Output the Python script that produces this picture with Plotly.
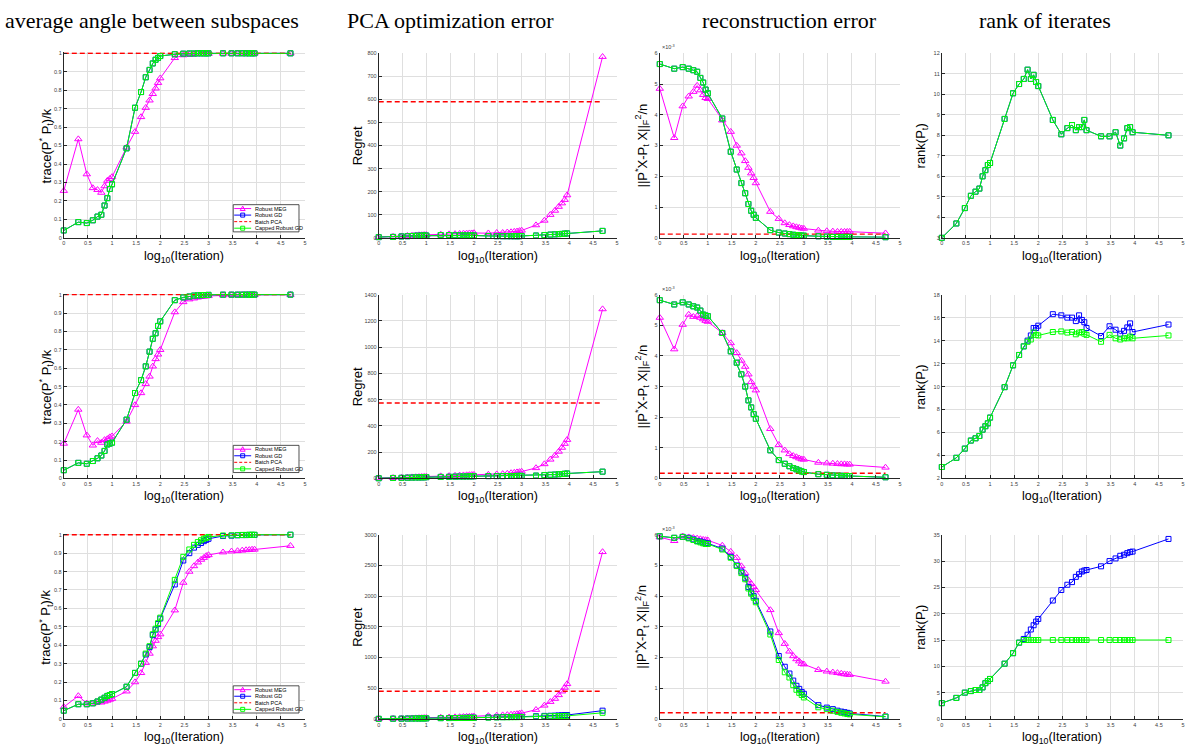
import numpy as np
import plotly.graph_objects as go

# ---------------- data ----------------
ITERATIONS = [1, 2, 3, 4, 5, 6, 7, 8, 9,
              10, 20, 30, 40, 50, 60, 70, 80, 90,
              100, 200, 300, 400, 500, 600, 700, 800, 900,
              1000, 2000, 3000, 4000, 5000, 6000, 7000, 8000, 9000,
              50000]

COLUMN_TITLES = ["average angle between subspaces", "PCA optimization error",
                 "reconstruction error", "rank of iterates"]
SERIES_NAMES = ["Robust MEG", "Robust GD", "Batch PCA", "Capped Robust GD"]
X_TICKS = [0, 0.5, 1, 1.5, 2, 2.5, 3, 3.5, 4, 4.5, 5]

# ---- row 1 ----
ANGLE_MEG_R1 = [0.255, 0.535, 0.345, 0.27, 0.26, 0.245, 0.28, 0.31, 0.32, 0.33,
                0.49, 0.575, 0.655, 0.705, 0.745, 0.78, 0.81, 0.84, 0.865,
                0.975, 0.99, 0.993, 0.995, 0.996, 0.997, 0.997, 0.998, 0.998,
                0.999, 0.999, 0.999, 0.999, 1.0, 1.0, 1.0, 1.0, 1.0]
ANGLE_GD_R1 = [0.04, 0.085, 0.08, 0.095, 0.115, 0.125, 0.175, 0.215, 0.265, 0.29,
               0.485, 0.705, 0.79, 0.87, 0.91, 0.945, 0.965, 0.975, 0.985,
               0.995, 0.998, 0.999, 0.999, 1.0, 1.0, 1.0, 1.0, 1.0,
               1.0, 1.0, 1.0, 1.0, 1.0, 1.0, 1.0, 1.0, 1.0]
ANGLE_CAP_R1 = [0.04, 0.085, 0.08, 0.095, 0.115, 0.125, 0.175, 0.215, 0.265, 0.29,
                0.485, 0.705, 0.79, 0.87, 0.91, 0.945, 0.965, 0.975, 0.985,
                0.995, 0.998, 0.999, 0.999, 1.0, 1.0, 1.0, 1.0, 1.0,
                1.0, 1.0, 1.0, 1.0, 1.0, 1.0, 1.0, 1.0, 1.0]
ANGLE_BATCH_R1 = 1.0

REGRET_MEG_R1 = [3, 5, 7, 9, 10, 11, 12, 12, 13, 13,
                 15, 16, 17, 18, 19, 19, 20, 20, 21,
                 20, 22, 22, 24, 25, 27, 28, 30, 32,
                 55, 75, 100, 118, 135, 150, 165, 185, 785]
REGRET_GD_R1 = [3, 4, 6, 7, 8, 9, 9, 10, 10, 10,
                12, 12, 11, 11, 11, 10, 10, 10, 10,
                8, 7, 7, 7, 7, 7, 7, 7, 8,
                10, 12, 14, 15, 16, 17, 18, 19, 30]
REGRET_CAP_R1 = [3, 4, 6, 7, 8, 9, 9, 10, 10, 10,
                 12, 12, 11, 11, 11, 10, 10, 10, 10,
                 8, 7, 7, 7, 7, 7, 7, 7, 8,
                 10, 12, 14, 15, 16, 17, 18, 19, 30]
REGRET_BATCH_R1 = 590

# reconstruction error, in units of 1e-3
RECON_MEG_R1 = [4.85, 3.25, 4.28, 4.6, 4.75, 4.95, 4.8, 4.65, 4.55, 4.52,
                3.82, 3.45, 3.0, 2.75, 2.5, 2.28, 2.1, 1.95, 1.78,
                0.85, 0.62, 0.48, 0.42, 0.38, 0.35, 0.33, 0.31, 0.3,
                0.24, 0.22, 0.21, 0.2, 0.2, 0.2, 0.2, 0.2, 0.15]
RECON_GD_R1 = [5.65, 5.5, 5.55, 5.5, 5.45, 5.4, 5.2, 5.05, 4.82, 4.7,
               3.88, 2.8, 2.22, 1.78, 1.45, 1.1, 0.88, 0.75, 0.65,
               0.25, 0.17, 0.14, 0.12, 0.1, 0.09, 0.08, 0.07, 0.07,
               0.05, 0.04, 0.03, 0.03, 0.03, 0.03, 0.03, 0.03, 0.02]
RECON_CAP_R1 = [5.65, 5.5, 5.55, 5.5, 5.45, 5.4, 5.2, 5.05, 4.82, 4.7,
                3.88, 2.8, 2.22, 1.78, 1.45, 1.1, 0.88, 0.75, 0.65,
                0.25, 0.17, 0.14, 0.12, 0.1, 0.09, 0.08, 0.07, 0.07,
                0.05, 0.04, 0.03, 0.03, 0.03, 0.03, 0.03, 0.03, 0.02]
RECON_BATCH_R1 = 0.12

RANK_GD_R1 = [3, 3.7, 4.45, 5.05, 5.25, 5.4, 6.0, 6.3, 6.55, 6.65,
              8.8, 10.05, 10.5, 10.75, 11.2, 10.75, 10.95, 10.6, 10.4,
              8.75, 8.05, 8.35, 8.5, 8.25, 8.4, 8.4, 8.75, 8.25,
              7.95, 7.95, 8.15, 7.5, 7.85, 8.35, 8.4, 8.15, 8.0]
RANK_CAP_R1 = [3, 3.7, 4.45, 5.05, 5.25, 5.4, 6.0, 6.3, 6.55, 6.65,
               8.8, 10.05, 10.5, 10.75, 11.2, 10.75, 10.95, 10.6, 10.4,
               8.75, 8.05, 8.35, 8.5, 8.25, 8.4, 8.4, 8.75, 8.25,
               7.95, 7.95, 8.15, 7.5, 7.85, 8.35, 8.4, 8.15, 8.0]

# ---- row 2 ----
ANGLE_MEG_R2 = [0.19, 0.375, 0.235, 0.18, 0.205, 0.195, 0.21, 0.215, 0.225, 0.23,
                0.31, 0.4, 0.465, 0.515, 0.555, 0.61, 0.65, 0.675, 0.7,
                0.905, 0.96, 0.975, 0.98, 0.985, 0.988, 0.99, 0.992, 0.993,
                0.997, 0.998, 0.998, 0.999, 0.999, 0.999, 0.999, 0.999, 1.0]
ANGLE_GD_R2 = [0.045, 0.085, 0.08, 0.095, 0.11, 0.125, 0.15, 0.185, 0.19, 0.195,
               0.32, 0.465, 0.535, 0.61, 0.69, 0.76, 0.79, 0.83, 0.855,
               0.97, 0.985, 0.99, 0.995, 0.996, 0.997, 0.998, 0.998, 0.999,
               1.0, 1.0, 1.0, 1.0, 1.0, 1.0, 1.0, 1.0, 1.0]
ANGLE_CAP_R2 = [0.045, 0.085, 0.08, 0.095, 0.11, 0.125, 0.15, 0.185, 0.19, 0.195,
                0.32, 0.465, 0.535, 0.61, 0.69, 0.76, 0.79, 0.83, 0.855,
                0.97, 0.985, 0.99, 0.995, 0.996, 0.997, 0.998, 0.998, 0.999,
                1.0, 1.0, 1.0, 1.0, 1.0, 1.0, 1.0, 1.0, 1.0]
ANGLE_BATCH_R2 = 1.0

REGRET_MEG_R2 = [3, 5, 7, 9, 10, 11, 12, 13, 14, 15,
                 18, 20, 22, 24, 25, 26, 27, 28, 29,
                 30, 33, 35, 38, 42, 45, 48, 50, 53,
                 80, 110, 145, 175, 205, 235, 265, 295, 1290]
REGRET_GD_R2 = [2, 4, 5, 6, 7, 8, 8, 9, 9, 10,
                12, 13, 14, 15, 15, 16, 16, 17, 17,
                18, 18, 18, 19, 19, 19, 20, 20, 20,
                22, 26, 28, 30, 32, 34, 36, 38, 52]
REGRET_CAP_R2 = [2, 4, 5, 6, 7, 8, 8, 9, 9, 10,
                 12, 13, 14, 15, 15, 16, 16, 17, 17,
                 18, 18, 18, 19, 19, 19, 20, 20, 20,
                 22, 26, 28, 30, 32, 34, 36, 38, 52]
REGRET_BATCH_R2 = 575

RECON_MEG_R2 = [5.25, 4.22, 5.02, 5.35, 5.28, 5.3, 5.25, 5.2, 5.15, 5.12,
                4.75, 4.42, 4.1, 3.85, 3.65, 3.4, 3.15, 3.0, 2.88,
                1.62, 1.1, 0.92, 0.8, 0.74, 0.7, 0.66, 0.63, 0.62,
                0.52, 0.5, 0.49, 0.48, 0.47, 0.47, 0.46, 0.46, 0.36]
RECON_GD_R2 = [5.82, 5.68, 5.75, 5.68, 5.62, 5.58, 5.48, 5.35, 5.32, 5.3,
               4.75, 4.15, 3.78, 3.4, 3.0, 2.55, 2.32, 2.1, 1.95,
               0.92, 0.6, 0.48, 0.4, 0.34, 0.3, 0.26, 0.23, 0.21,
               0.14, 0.12, 0.1, 0.09, 0.09, 0.08, 0.08, 0.08, 0.04]
RECON_CAP_R2 = [5.82, 5.68, 5.75, 5.68, 5.62, 5.58, 5.48, 5.35, 5.32, 5.3,
                4.75, 4.15, 3.78, 3.4, 3.0, 2.55, 2.32, 2.1, 1.95,
                0.92, 0.6, 0.48, 0.4, 0.34, 0.3, 0.26, 0.23, 0.21,
                0.14, 0.12, 0.1, 0.09, 0.09, 0.08, 0.08, 0.08, 0.04]
RECON_BATCH_R2 = 0.17

RANK_GD_R2 = [3, 3.8, 4.6, 5.3, 5.5, 5.7, 6.25, 6.55, 6.8, 7.3,
              9.95, 11.85, 12.75, 13.5, 14.0, 14.45, 15.1, 15.1, 15.3,
              16.3, 16.2, 16.0, 16.0, 15.7, 16.2, 15.8, 15.6, 15.1,
              14.4, 15.25, 14.95, 14.6, 14.85, 15.15, 15.5, 14.75, 15.4]
RANK_CAP_R2 = [3, 3.8, 4.6, 5.3, 5.5, 5.7, 6.25, 6.55, 6.8, 7.3,
               9.95, 11.85, 12.75, 13.5, 13.9, 14.1, 14.7, 14.5, 14.45,
               14.75, 14.8, 14.7, 14.75, 14.55, 14.7, 14.75, 14.6, 14.5,
               13.9, 14.5, 14.2, 14.1, 14.2, 14.2, 14.35, 14.2, 14.45]

# ---- row 3 ----
ANGLE_MEG_R3 = [0.065, 0.125, 0.085, 0.085, 0.09, 0.09, 0.095, 0.1, 0.105, 0.11,
                0.15, 0.2, 0.25, 0.305, 0.355, 0.395, 0.425, 0.445, 0.46,
                0.59, 0.74, 0.8, 0.83, 0.85, 0.865, 0.875, 0.885, 0.89,
                0.905, 0.91, 0.912, 0.915, 0.917, 0.918, 0.92, 0.92, 0.94]
ANGLE_GD_R3 = [0.045, 0.08, 0.08, 0.085, 0.095, 0.105, 0.115, 0.125, 0.13, 0.135,
               0.175, 0.25, 0.3, 0.35, 0.39, 0.455, 0.485, 0.515, 0.545,
               0.73, 0.86, 0.9, 0.93, 0.945, 0.955, 0.965, 0.972, 0.978,
               0.993, 0.995, 0.997, 0.998, 0.998, 0.999, 0.999, 0.999, 1.0]
ANGLE_CAP_R3 = [0.045, 0.08, 0.08, 0.085, 0.095, 0.105, 0.115, 0.125, 0.13, 0.135,
                0.175, 0.25, 0.3, 0.355, 0.395, 0.46, 0.49, 0.52, 0.55,
                0.755, 0.88, 0.92, 0.945, 0.96, 0.97, 0.978, 0.983, 0.988,
                0.996, 0.997, 0.998, 0.999, 0.999, 1.0, 1.0, 1.0, 1.0]
ANGLE_BATCH_R3 = 1.0

REGRET_MEG_R3 = [3, 6, 8, 10, 12, 13, 15, 16, 18, 20,
                 25, 28, 31, 33, 35, 37, 38, 40, 42,
                 50, 57, 62, 67, 72, 77, 82, 88, 95,
                 150, 220, 280, 330, 390, 450, 510, 570, 2720]
REGRET_GD_R3 = [2, 4, 5, 6, 7, 8, 8, 9, 10, 10,
                13, 15, 16, 17, 18, 19, 19, 20, 20,
                25, 28, 30, 31, 32, 33, 34, 34, 35,
                45, 50, 52, 55, 58, 60, 62, 64, 135]
REGRET_CAP_R3 = [2, 4, 5, 6, 7, 8, 8, 9, 10, 10,
                 13, 14, 15, 16, 17, 18, 18, 19, 19,
                 22, 25, 27, 28, 29, 30, 30, 31, 32,
                 38, 42, 44, 46, 47, 48, 49, 50, 100]
REGRET_BATCH_R3 = 450

RECON_MEG_R3 = [5.92, 5.8, 5.95, 5.92, 5.9, 5.88, 5.86, 5.84, 5.83, 5.82,
                5.65, 5.45, 5.25, 4.98, 4.75, 4.52, 4.4, 4.3, 4.2,
                3.55, 2.8, 2.45, 2.2, 2.05, 1.95, 1.88, 1.8, 1.78,
                1.6, 1.55, 1.52, 1.5, 1.48, 1.46, 1.45, 1.44, 1.22]
RECON_GD_R3 = [5.95, 5.9, 5.93, 5.9, 5.85, 5.8, 5.78, 5.75, 5.72, 5.72,
               5.55, 5.28, 5.0, 4.8, 4.6, 4.3, 4.12, 4.0, 3.85,
               2.85, 2.05, 1.7, 1.48, 1.25, 1.08, 0.98, 0.88, 0.82,
               0.45, 0.37, 0.32, 0.27, 0.24, 0.22, 0.2, 0.18, 0.08]
RECON_CAP_R3 = [5.95, 5.9, 5.93, 5.88, 5.83, 5.78, 5.75, 5.72, 5.7, 5.7,
                5.52, 5.25, 4.98, 4.75, 4.55, 4.25, 4.08, 3.95, 3.8,
                2.75, 1.92, 1.52, 1.35, 1.1, 0.95, 0.85, 0.78, 0.7,
                0.38, 0.32, 0.27, 0.23, 0.2, 0.18, 0.16, 0.15, 0.07]
RECON_BATCH_R3 = 0.2

RANK_GD_R3 = [3, 4.0, 5.0, 5.3, 5.5, 5.5, 6.0, 6.8, 7.2, 7.6,
              10.5, 12.5, 14.5, 15.2, 16.0, 17.0, 17.8, 18.5, 19.0,
              22.5, 24.5, 25.5, 26.0, 27.0, 27.5, 28.0, 28.2, 28.3,
              29.0, 30.0, 30.5, 31.0, 31.2, 31.5, 31.7, 31.8, 34.2]
RANK_CAP_R3 = [3, 4.0, 5.0, 5.3, 5.5, 5.5, 6.0, 6.8, 7.2, 7.6,
               10.5, 12.5, 14.5, 15.0, 15.0, 15.0, 15.0, 15.0, 15.0,
               15.0, 15.0, 15.0, 15.0, 15.0, 15.0, 15.0, 15.0, 15.0,
               15.0, 15.0, 15.0, 15.0, 15.0, 15.0, 15.0, 15.0, 15.0]

# y axis settings per panel: (range, dtick)
ANGLE_YAXIS = ([0, 1.006], 0.1)
REGRET_YAXES = [([0, 800], 100), ([0, 1400], 200), ([0, 3000], 500)]
RECON_TICKS = [0, 1, 2, 3, 4, 5, 6]          # x 1e-3
RANK_YAXES = [([3, 12], 1), ([2, 18], 2), ([0, 35], 5)]

# ---------------- drawing ----------------
X = np.log10(np.array(ITERATIONS, dtype=float))

W, H = 1188, 754
def px(x):
    return x / W
def py(y):
    return 1 - y / H

COL_PX = [(62, 304), (378, 617), (660, 901), (943, 1185)]
ROW_PX = [(50.7, 236.7), (294, 479.3), (536, 721.7)]
YLABEL_X = [44, 357, 642, 923]
TITLE_X = [151, 450, 790, 1047]

SANS = "Liberation Sans, Arial, Helvetica, sans-serif"
SERIF = "Liberation Serif, Times New Roman, serif"
C_MEG, C_GD, C_BATCH, C_CAP = "#FF00FF", "#0000FF", "#FF0000", "#00FF00"

fig = go.Figure()
annotations = []
shapes = []
layout = {}

def ids(r, c):
    i = r * 4 + c + 1
    s = "" if i == 1 else str(i)
    return "x" + s, "y" + s, "xaxis" + s, "yaxis" + s

def add_series(xa, ya, y, color, symbol, size, name):
    fig.add_trace(go.Scatter(
        x=X, y=y, xaxis=xa, yaxis=ya, mode="lines+markers", name=name,
        line=dict(color=color, width=1),
        marker=dict(symbol=symbol, size=size, color=color, line=dict(color=color, width=1)),
        cliponaxis=False, showlegend=False))

def add_batch(xa, ya, value, name):
    fig.add_trace(go.Scatter(
        x=X, y=[value] * len(X), xaxis=xa, yaxis=ya, mode="lines", name=name,
        line=dict(color=C_BATCH, width=1.4, dash="5px,3px"),
        cliponaxis=False, showlegend=False))

ROW_DATA = [
    (ANGLE_MEG_R1, ANGLE_GD_R1, ANGLE_BATCH_R1, ANGLE_CAP_R1,
     REGRET_MEG_R1, REGRET_GD_R1, REGRET_BATCH_R1, REGRET_CAP_R1,
     RECON_MEG_R1, RECON_GD_R1, RECON_BATCH_R1, RECON_CAP_R1,
     RANK_GD_R1, RANK_CAP_R1),
    (ANGLE_MEG_R2, ANGLE_GD_R2, ANGLE_BATCH_R2, ANGLE_CAP_R2,
     REGRET_MEG_R2, REGRET_GD_R2, REGRET_BATCH_R2, REGRET_CAP_R2,
     RECON_MEG_R2, RECON_GD_R2, RECON_BATCH_R2, RECON_CAP_R2,
     RANK_GD_R2, RANK_CAP_R2),
    (ANGLE_MEG_R3, ANGLE_GD_R3, ANGLE_BATCH_R3, ANGLE_CAP_R3,
     REGRET_MEG_R3, REGRET_GD_R3, REGRET_BATCH_R3, REGRET_CAP_R3,
     RECON_MEG_R3, RECON_GD_R3, RECON_BATCH_R3, RECON_CAP_R3,
     RANK_GD_R3, RANK_CAP_R3),
]

YLABELS = ["trace(P<sup>*</sup> P<sub>t</sub>)/k", "Regret",
           "||P<sup>*</sup>X-P<sub>t</sub> X||<sub>F</sub><sup>2</sup>/n",
           "rank(P<sub>t</sub>)"]

tickfont = dict(family=SANS, size=5.5, color="#404040")
axis_common = dict(showline=True, linecolor="#262626", linewidth=1, ticks="inside",
                   ticklen=3, tickwidth=0.8, tickcolor="#262626", showgrid=True,
                   gridcolor="#dfdfdf", gridwidth=1, zeroline=False, tickfont=tickfont,
                   mirror=False, fixedrange=True)

for r in range(3):
    (a_meg, a_gd, a_b, a_cap, g_meg, g_gd, g_b, g_cap,
     e_meg, e_gd, e_b, e_cap, k_gd, k_cap) = ROW_DATA[r]
    y0p, y1p = ROW_PX[r]
    for c in range(4):
        xa, ya, xk, yk = ids(r, c)
        x0p, x1p = COL_PX[c]
        layout[xk] = dict(axis_common, domain=[px(x0p), px(x1p)], anchor=ya,
                          range=[0, 5], tickmode="array", tickvals=X_TICKS,
                          ticktext=[("%g" % t) for t in X_TICKS])
        top_px = y0p
        if c == 0:
            # small headroom so the lines at 1 are not clipped in half
            top_px = y1p - (y1p - y0p) * ANGLE_YAXIS[0][1]
        ycfg = dict(axis_common, domain=[py(y1p), py(top_px)], anchor=xa)
        if c == 0:
            ycfg.update(range=ANGLE_YAXIS[0], tick0=0, dtick=ANGLE_YAXIS[1])
            add_series(xa, ya, a_meg, C_MEG, "triangle-up-open", 6.5, SERIES_NAMES[0])
            add_series(xa, ya, a_gd, C_GD, "square-open", 5, SERIES_NAMES[1])
            add_batch(xa, ya, a_b, SERIES_NAMES[2])
            add_series(xa, ya, a_cap, C_CAP, "square-open", 5, SERIES_NAMES[3])
        elif c == 1:
            rng, dt = REGRET_YAXES[r]
            ycfg.update(range=rng, tick0=0, dtick=dt)
            add_series(xa, ya, g_meg, C_MEG, "triangle-up-open", 6.5, SERIES_NAMES[0])
            add_series(xa, ya, g_gd, C_GD, "square-open", 5, SERIES_NAMES[1])
            add_batch(xa, ya, g_b, SERIES_NAMES[2])
            add_series(xa, ya, g_cap, C_CAP, "square-open", 5, SERIES_NAMES[3])
        elif c == 2:
            ycfg.update(range=[0, 6e-3], tickmode="array",
                        tickvals=[t * 1e-3 for t in RECON_TICKS],
                        ticktext=[str(t) for t in RECON_TICKS])
            add_series(xa, ya, np.array(e_meg) * 1e-3, C_MEG, "triangle-up-open", 6.5, SERIES_NAMES[0])
            add_series(xa, ya, np.array(e_gd) * 1e-3, C_GD, "square-open", 5, SERIES_NAMES[1])
            add_batch(xa, ya, e_b * 1e-3, SERIES_NAMES[2])
            add_series(xa, ya, np.array(e_cap) * 1e-3, C_CAP, "square-open", 5, SERIES_NAMES[3])
            annotations.append(dict(xref="paper", yref="paper", x=px(x0p), y=py(y0p - 1),
                                    xanchor="left", yanchor="bottom", showarrow=False,
                                    text="\u00d710<sup>-3</sup>",
                                    font=dict(family=SANS, size=5.5, color="#404040")))
        else:
            rng, dt = RANK_YAXES[r]
            ycfg.update(range=rng, tick0=rng[0], dtick=dt)
            add_series(xa, ya, k_gd, C_GD, "square-open", 5, SERIES_NAMES[1])
            add_series(xa, ya, k_cap, C_CAP, "square-open", 5, SERIES_NAMES[3])
        layout[yk] = ycfg

        # axis labels
        annotations.append(dict(xref="paper", yref="paper", x=px(YLABEL_X[c]),
                                y=py((y0p + y1p) / 2), textangle=-90, showarrow=False,
                                xanchor="center", yanchor="middle", text=YLABELS[c],
                                font=dict(family=SANS, size=13, color="black")))
        annotations.append(dict(xref="paper", yref="paper", x=px((x0p + x1p) / 2),
                                y=py(y1p + 19), showarrow=False, xanchor="center",
                                yanchor="middle", text="log<sub>10</sub>(Iteration)",
                                font=dict(family=SANS, size=12.5, color="black")))

    # legend (drawn in the first column of every row)
    right = COL_PX[0][1] - 6
    left = right - 66
    bottom = y1p - 6
    top = bottom - 27.4
    shapes.append(dict(type="rect", xref="paper", yref="paper", x0=px(left), x1=px(right),
                       y0=py(bottom), y1=py(top), line=dict(color="#262626", width=0.8),
                       fillcolor="white", layer="above"))
    styles = [(C_MEG, "tri", "solid"), (C_GD, "sq", "solid"),
              (C_BATCH, None, "dash"), (C_CAP, "sq", "solid")]
    for k, (name, (col, mk, dash)) in enumerate(zip(SERIES_NAMES, styles)):
        cy = top + 3.9 + k * 6.6
        shapes.append(dict(type="line", xref="paper", yref="paper", x0=px(left + 1),
                           x1=px(left + 18), y0=py(cy), y1=py(cy), layer="above",
                           line=dict(color=col, width=1, dash=("3px,2px" if dash == "dash" else "solid"))))
        cx = left + 9.5
        if mk == "tri":
            path = "M %f,%f L %f,%f L %f,%f Z" % (px(cx - 2.5), py(cy + 2), px(cx + 2.5), py(cy + 2),
                                                  px(cx), py(cy - 2.5))
            shapes.append(dict(type="path", xref="paper", yref="paper", path=path,
                               line=dict(color=col, width=1), layer="above"))
        elif mk == "sq":
            shapes.append(dict(type="rect", xref="paper", yref="paper", x0=px(cx - 2),
                               x1=px(cx + 2), y0=py(cy + 2), y1=py(cy - 2),
                               line=dict(color=col, width=1), layer="above"))
        annotations.append(dict(xref="paper", yref="paper", x=px(left + 20), y=py(cy),
                                xanchor="left", yanchor="middle", showarrow=False, text=name,
                                font=dict(family=SANS, size=5.5, color="black")))

# column titles
for c in range(4):
    annotations.append(dict(xref="paper", yref="paper", x=px(TITLE_X[c]), y=py(18),
                            xanchor="center", yanchor="middle", showarrow=False,
                            text=COLUMN_TITLES[c],
                            font=dict(family=SERIF, size=22, color="black")))

fig.update_layout(width=W, height=H, autosize=False,
                  margin=dict(l=0, r=0, t=0, b=0),
                  paper_bgcolor="white", plot_bgcolor="white",
                  annotations=annotations, shapes=shapes, showlegend=False, **layout)

fig.write_html("out.html", config={"displayModeBar": False},
               post_script="document.body.style.margin='0px';document.body.style.overflow='hidden';")
